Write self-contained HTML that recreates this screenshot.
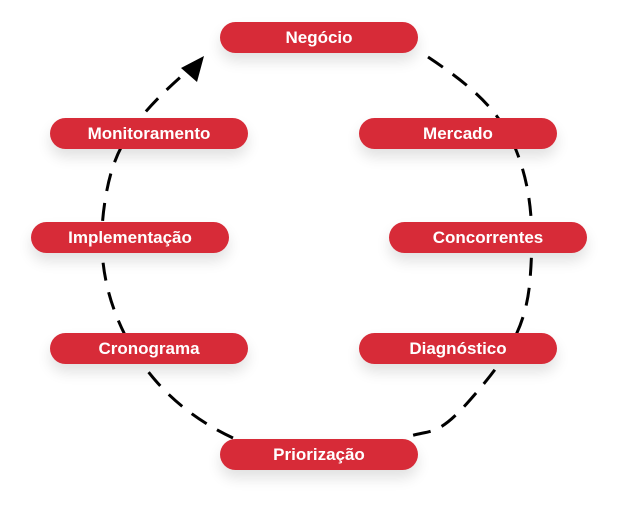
<!DOCTYPE html><html><head><style>
body{margin:0;width:626px;height:517px;background:#fff;position:relative;overflow:hidden;font-family:"Liberation Sans",sans-serif}
.p{position:absolute;width:198px;height:31px;border-radius:16px;background:#d72b38;color:#fff;font-size:17px;font-weight:bold;line-height:31px;text-align:center;box-shadow:0 8px 14px rgba(0,0,0,0.12)}
svg{position:absolute;left:0;top:0}
</style></head><body>
<svg width="626" height="517"><path d="M428,57 C470,85 500,110 516,150 S534,230 530,280 S505,360 470,400 S430,428 405,438" fill="none" stroke="#000" stroke-width="3" stroke-dasharray="18 12"/>
<path d="M233,438 C190,418 150,385 125,335 S98,240 106,195 S130,120 192,67" fill="none" stroke="#000" stroke-width="3" stroke-dasharray="18 12"/>
<polygon points="204,56 181,68 197,82" fill="#000"/></svg>
<div class="p" style="left:220px;top:22px">Negócio</div>
<div class="p" style="left:50px;top:118px">Monitoramento</div>
<div class="p" style="left:359px;top:118px">Mercado</div>
<div class="p" style="left:31px;top:222px">Implementação</div>
<div class="p" style="left:389px;top:222px">Concorrentes</div>
<div class="p" style="left:50px;top:333px">Cronograma</div>
<div class="p" style="left:359px;top:333px">Diagnóstico</div>
<div class="p" style="left:220px;top:439px">Priorização</div>
</body></html>
